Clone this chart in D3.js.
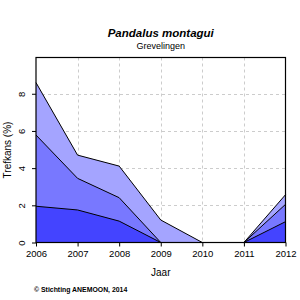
<html>
<script src='https://d3js.org/d3.v7.min.js'></script>
<style>
  body { margin: 0; background: white; }
  text { font-family: 'Liberation Sans', Arial, sans-serif; fill: black; }
</style>
<body onload='init()'>
<svg width=300 height=300></svg>
<script>
// Data (cumulative levels per year, in %)
const years = [2006, 2007, 2008, 2009, 2010, 2011, 2012]
const levelLow = [1.95, 1.75, 1.15, 0, 0, 0, 1.12]
const levelMid = [5.78, 3.45, 2.41, 0, 0, 0, 2.05]
const levelTop = [8.6, 4.7, 4.11, 1.21, 0, 0, 2.57]
const yTicks = [0, 2, 4, 6, 8]
const gridYears = [2007, 2008, 2009, 2010, 2011]
const gridY = [2, 4, 6, 8]

function init() {
    const svg = d3.select("svg")
    const left = 36, right = 285.5, top = 57.5, bottom = 242.5

    // Scales
    const x = d3.scaleLinear().domain([2006, 2012]).range([left, right])
    const y = d3.scaleLinear().domain([0, 9.95]).range([bottom, top])

    // Grid
    const grid = svg.append("g")
        .attr("stroke", "#cccccc").attr("stroke-dasharray", "3,3").attr("stroke-width", 1)
    grid.selectAll("line.v").data(gridYears).enter().append("line")
        .attr("x1", d => Math.round(x(d)) + 0.5).attr("x2", d => Math.round(x(d)) + 0.5)
        .attr("y1", top).attr("y2", bottom)
    grid.selectAll("line.h").data(gridY).enter().append("line")
        .attr("x1", left).attr("x2", right)
        .attr("y1", d => Math.round(y(d)) + 0.5).attr("y2", d => Math.round(y(d)) + 0.5)

    // Areas, drawn from the highest level down
    const layers = [
        { vals: levelTop, color: "#a4a4ff" },
        { vals: levelMid, color: "#7878ff" },
        { vals: levelLow, color: "#4444ff" }
    ]
    const area = d3.area().x((d, i) => x(years[i])).y0(y(0)).y1(d => y(d))
    const line = d3.line().x((d, i) => x(years[i])).y(d => y(d))
    layers.forEach(l => {
        svg.append("path").datum(l.vals).attr("d", area).attr("fill", l.color)
    })
    layers.forEach(l => {
        svg.append("path").datum(l.vals).attr("d", line)
            .attr("fill", "none").attr("stroke", "black").attr("stroke-width", 1)
    })

    // Box
    svg.append("rect")
        .attr("x", left).attr("y", top).attr("width", right - left).attr("height", bottom - top)
        .attr("fill", "none").attr("stroke", "black").attr("stroke-width", 1.2)

    // X axis
    const xAxis = svg.append("g")
        .attr("transform", `translate(0,${bottom})`)
        .call(d3.axisBottom(x).tickValues(years).tickFormat(d3.format("d")).tickSize(4).tickPadding(4))
    xAxis.select(".domain").remove()
    xAxis.selectAll("text").style("font-size", "9.5px").attr("fill", "black")

    // Y axis
    const yAxis = svg.append("g")
        .attr("transform", `translate(${left},0)`)
        .call(d3.axisLeft(y).tickValues(yTicks).tickSize(4))
    yAxis.select(".domain").remove()
    yAxis.selectAll("text")
        .attr("x", null).attr("dy", null)
        .attr("transform", "translate(-11,0) rotate(-90)")
        .attr("text-anchor", "middle")
        .style("font-size", "9.5px").attr("fill", "black")

    // Titles
    svg.append("text").attr("x", (left + right) / 2).attr("y", 37)
        .attr("text-anchor", "middle").style("font-size", "11.5px")
        .style("font-weight", "bold").style("font-style", "italic")
        .text("Pandalus montagui")
    svg.append("text").attr("x", (left + right) / 2).attr("y", 48.5)
        .attr("text-anchor", "middle").style("font-size", "9px")
        .text("Grevelingen")
    svg.append("text").attr("x", (left + right) / 2).attr("y", 276)
        .attr("text-anchor", "middle").style("font-size", "10px")
        .text("Jaar")
    svg.append("text")
        .attr("transform", `translate(10.5,${(top + bottom) / 2}) rotate(-90)`)
        .attr("text-anchor", "middle").style("font-size", "10px")
        .text("Trefkans (%)")
    svg.append("text").attr("x", 34).attr("y", 292)
        .style("font-size", "6.9px").style("font-weight", "bold")
        .text("© Stichting ANEMOON, 2014")
}
</script>
</body>
</html>
